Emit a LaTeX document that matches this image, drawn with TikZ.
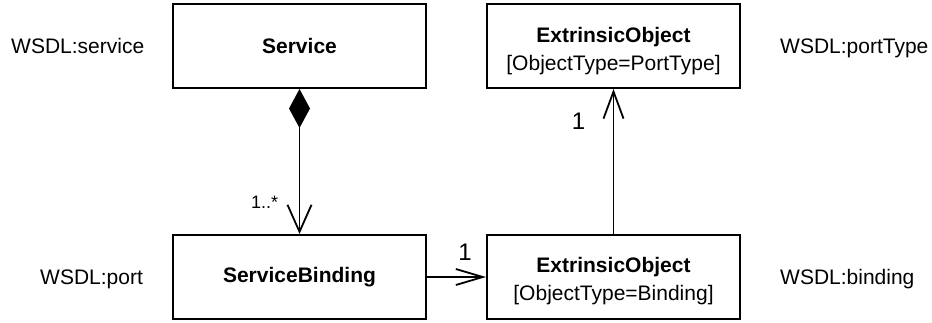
\documentclass[tikz,border=0pt]{standalone}
\usepackage{fontspec}
\setmainfont{Liberation Sans}
\usetikzlibrary{arrows.meta}
\tikzset{
  box/.style={draw, line width=2pt, minimum width=253pt, minimum height=84pt, inner sep=0pt, font=\fontsize{21}{28}\selectfont},
  txt/.style={inner sep=0pt, font=\fontsize{21}{28}\selectfont},
  mult/.style={inner sep=0pt, font=\fontsize{24}{28}\selectfont},
  smallmult/.style={inner sep=0pt, font=\fontsize{18}{22}\selectfont},
  conn/.style={line width=1.8pt},
  openarrow/.style={-{Straight Barb[length=27pt,width=#1]}},
}
\begin{document}
\begin{tikzpicture}[x=1pt,y=-1pt]
\useasboundingbox (0,0) rectangle (932,322);
% boxes
\node[box] (svc) at (299.5,46) {\textbf{Service}};
\node[box] (sb) at (299.5,277) {\textbf{ServiceBinding}};
\node[box] (eo1) at (613.5,46) {};
\node[box] (eo2) at (613.5,277) {};
\node[txt, anchor=base] (eo1a) at (613.5,42) {\textbf{ExtrinsicObject}};
\node[txt, anchor=base] (eo1b) at (613.5,70) {[ObjectType=PortType]};
\node[txt, anchor=base] (eo2a) at (613.5,272) {\textbf{ExtrinsicObject}};
\node[txt, anchor=base] (eo2b) at (613.5,300) {[ObjectType=Binding]};
% side labels
\node[txt, anchor=base west] (l1) at (11,53) {WSDL:service};
\node[txt, anchor=base west] (l2) at (40,284) {WSDL:port};
\node[txt, anchor=base west] (l3) at (780,53) {WSDL:portType};
\node[txt, anchor=base west] (l4) at (780,284) {WSDL:binding};
% connectors
\draw[conn, {Diamond[length=39pt,width=21pt,line width=0pt]}-{Straight Barb[length=27pt,width=24pt]}] (svc.south) -- (sb.north);
\draw[conn, -{Straight Barb[length=27pt,width=16pt]}] (sb.east) -- (eo2.west);
\draw[conn, -{Straight Barb[length=27pt,width=20pt]}] (eo2.north) -- (eo1.south);
% multiplicities
\node[smallmult, anchor=base west] (m1) at (251,208) {1..*};
\node[mult, anchor=base] (m2) at (465,260) {1};
\node[mult, anchor=base] (m3) at (578.5,129) {1};
\end{tikzpicture}
\end{document}
